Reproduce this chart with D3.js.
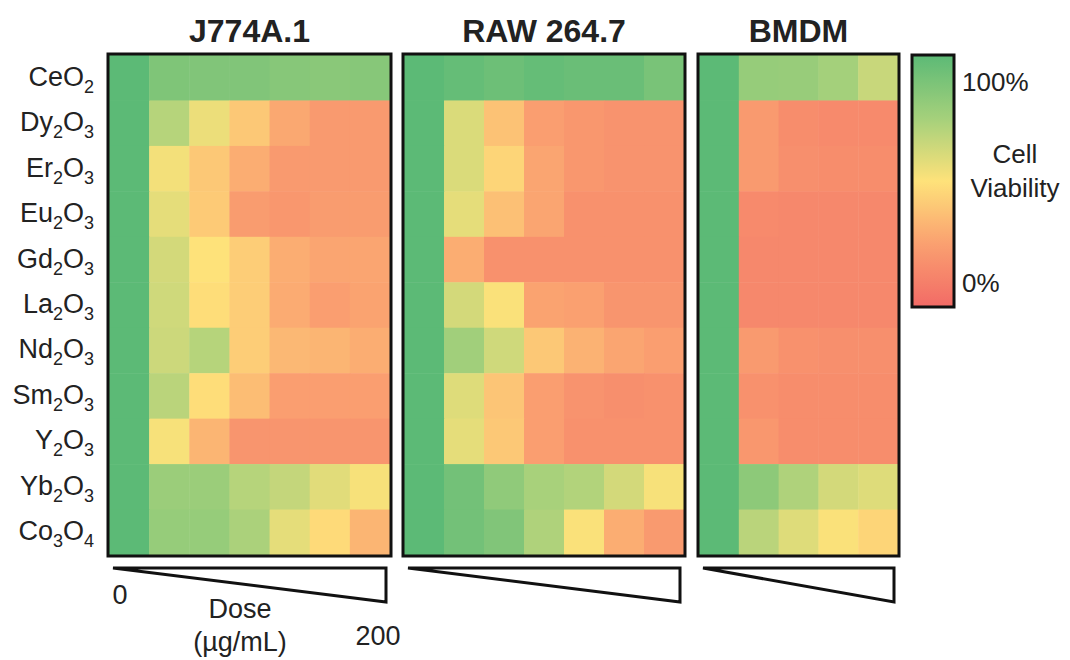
<!DOCTYPE html>
<html>
<head>
<meta charset="utf-8">
<script src="https://cdn.jsdelivr.net/npm/d3@7"></script>
<style>
  body { margin: 0; background: #fff; }
  text { font-family: "Liberation Sans", Arial, sans-serif; fill: #222; }
</style>
</head>
<body>
<div id="chart"></div>
<script>
// Row labels (oxides), top to bottom
const oxides = ["CeO2", "Dy2O3", "Er2O3", "Eu2O3", "Gd2O3", "La2O3",
  "Nd2O3", "Sm2O3", "Y2O3", "Yb2O3", "Co3O4"];

// Cell lines (panel titles)
const cellLines = ["J774A.1", "RAW 264.7", "BMDM"];

// Cell viability (%), one row per oxide, first column is dose 0
const j774Values = [
  [100, 88, 87, 87, 85, 84, 85],
  [100, 70, 55, 40, 28, 22, 22],
  [100, 53, 40, 30, 22, 22, 22],
  [100, 57, 41, 23, 21, 23, 23],
  [100, 62, 50, 42, 30, 27, 27],
  [100, 63, 48, 42, 29, 24, 26],
  [100, 64, 70, 42, 34, 33, 30],
  [100, 69, 48, 36, 24, 24, 24],
  [100, 52, 33, 20, 20, 20, 20],
  [100, 78, 78, 70, 66, 58, 52],
  [100, 80, 80, 73, 57, 47, 33]
];
const rawValues = [
  [100, 97, 94, 97, 95, 95, 90],
  [100, 60, 38, 24, 21, 19, 19],
  [100, 60, 45, 27, 21, 19, 19],
  [100, 57, 37, 27, 18, 18, 18],
  [100, 30, 18, 18, 18, 18, 18],
  [100, 62, 51, 26, 25, 20, 20],
  [100, 76, 63, 40, 32, 27, 24],
  [100, 59, 39, 24, 19, 17, 18],
  [100, 57, 40, 24, 18, 18, 18],
  [100, 92, 82, 74, 71, 62, 52],
  [100, 92, 87, 72, 51, 30, 22]
];
const bmdmValues = [
  [100, 80, 79, 75, 65],
  [100, 22, 16, 15, 15],
  [100, 22, 17, 16, 16],
  [100, 15, 14, 14, 14],
  [100, 14, 14, 14, 14],
  [100, 14, 14, 14, 14],
  [100, 22, 18, 17, 17],
  [100, 18, 16, 16, 16],
  [100, 21, 16, 16, 16],
  [100, 83, 72, 62, 59],
  [100, 69, 59, 51, 45]
];
const panelValues = [j774Values, rawValues, bmdmValues];

// Colour legend
const legendTicks = [100, 0];
const legendTitle = ["Cell", "Viability"];
const doseLabels = ["0", "200"];
const doseTitle = ["Dose", "(\u00b5g/mL)"];

const width = 1070, height = 660;
const svg = d3.select("#chart").append("svg")
  .attr("width", width)
  .attr("height", height);

// Viability colour scale (red -> yellow -> green)
const color = d3.scaleLinear()
  .domain([0, 25, 50, 75, 100])
  .range(["#f26a66", "#faa070", "#fee27a", "#a4d07b", "#5cba76"])
  .interpolate(d3.interpolateRgb);

const y = d3.scaleBand()
  .domain(oxides)
  .range([55, 555]);

// Panel extents (inner area of each framed block)
const panels = [
  { x0: 109, x1: 390 },
  { x0: 404, x1: 684 },
  { x0: 699, x1: 898 }
];

// Row labels with subscripts
function addFormula(sel, label, subSize, shift) {
  const parts = label.split(/(\d+)/).filter(p => p.length);
  let prevSub = false;
  parts.forEach(p => {
    const isSub = /^\d+$/.test(p);
    const t = sel.append("tspan").text(p);
    if (isSub) {
      t.attr("font-size", subSize).attr("dy", prevSub ? 0 : shift);
    } else if (prevSub) {
      t.attr("dy", -shift);
    }
    prevSub = isSub;
  });
}

svg.append("g").selectAll("text")
  .data(oxides)
  .enter().append("text")
  .attr("x", 94)
  .attr("y", d => y(d) + y.bandwidth() / 2 + 8)
  .attr("text-anchor", "end")
  .attr("font-size", 27)
  .each(function(d) { addFormula(d3.select(this), d, 18, 7); });

panels.forEach((p, i) => {
  const vals = panelValues[i];
  const cols = d3.range(vals[0].length);
  const x = d3.scaleBand().domain(cols).range([p.x0, p.x1]);

  const g = svg.append("g");
  oxides.forEach((ox, r) => {
    g.selectAll(null)
      .data(vals[r])
      .enter().append("rect")
      .attr("x", (d, c) => x(c))
      .attr("y", y(ox))
      .attr("width", x.bandwidth() + 0.5)
      .attr("height", y.bandwidth() + 0.5)
      .attr("fill", d => color(d));
  });

  // frame
  g.append("rect")
    .attr("x", p.x0 - 1)
    .attr("y", 54)
    .attr("width", p.x1 - p.x0 + 2)
    .attr("height", 502)
    .attr("fill", "none")
    .attr("stroke", "#111")
    .attr("stroke-width", 3);

  // title
  svg.append("text")
    .attr("x", (p.x0 + p.x1) / 2)
    .attr("y", 42)
    .attr("text-anchor", "middle")
    .attr("font-size", 32)
    .attr("font-weight", "bold")
    .text(cellLines[i]);

  // dose wedge
  const l = p.x0 + 4, rx = p.x1 - 4;
  svg.append("path")
    .attr("d", `M${l},568 L${rx},568 L${rx},602 Z`)
    .attr("fill", "none")
    .attr("stroke", "#111")
    .attr("stroke-width", 3)
    .attr("stroke-linejoin", "miter");
});

// dose labels under first panel
svg.append("text").attr("x", 120).attr("y", 604)
  .attr("text-anchor", "middle").attr("font-size", 27).text(doseLabels[0]);
svg.append("text").attr("x", 378).attr("y", 645)
  .attr("text-anchor", "middle").attr("font-size", 27).text(doseLabels[1]);
svg.append("text").attr("x", 240).attr("y", 618)
  .attr("text-anchor", "middle").attr("font-size", 27).text(doseTitle[0]);
svg.append("text").attr("x", 240).attr("y", 651)
  .attr("text-anchor", "middle").attr("font-size", 27).text(doseTitle[1]);

// Colour bar
const legendY = d3.scaleLinear().domain([100, 0]).range([55, 307]);
const grad = svg.append("defs").append("linearGradient")
  .attr("id", "viab")
  .attr("x1", 0).attr("x2", 0).attr("y1", 0).attr("y2", 1);
d3.range(100, -1, -5).forEach(v => {
  grad.append("stop")
    .attr("offset", (100 - v) + "%")
    .attr("stop-color", color(v));
});
svg.append("rect")
  .attr("x", 912).attr("y", legendY(100))
  .attr("width", 42).attr("height", legendY(0) - legendY(100))
  .attr("fill", "url(#viab)")
  .attr("stroke", "#111")
  .attr("stroke-width", 3);

svg.selectAll(".ltick")
  .data(legendTicks)
  .enter().append("text")
  .attr("class", "ltick")
  .attr("x", 962)
  .attr("y", d => d === 100 ? 91 : 292)
  .attr("font-size", 26)
  .text(d => d + "%");

svg.selectAll(".ltitle")
  .data(legendTitle)
  .enter().append("text")
  .attr("class", "ltitle")
  .attr("x", 1015)
  .attr("y", (d, i) => 163 + i * 34)
  .attr("text-anchor", "middle")
  .attr("font-size", 26)
  .text(d => d);
</script>
</body>
</html>
